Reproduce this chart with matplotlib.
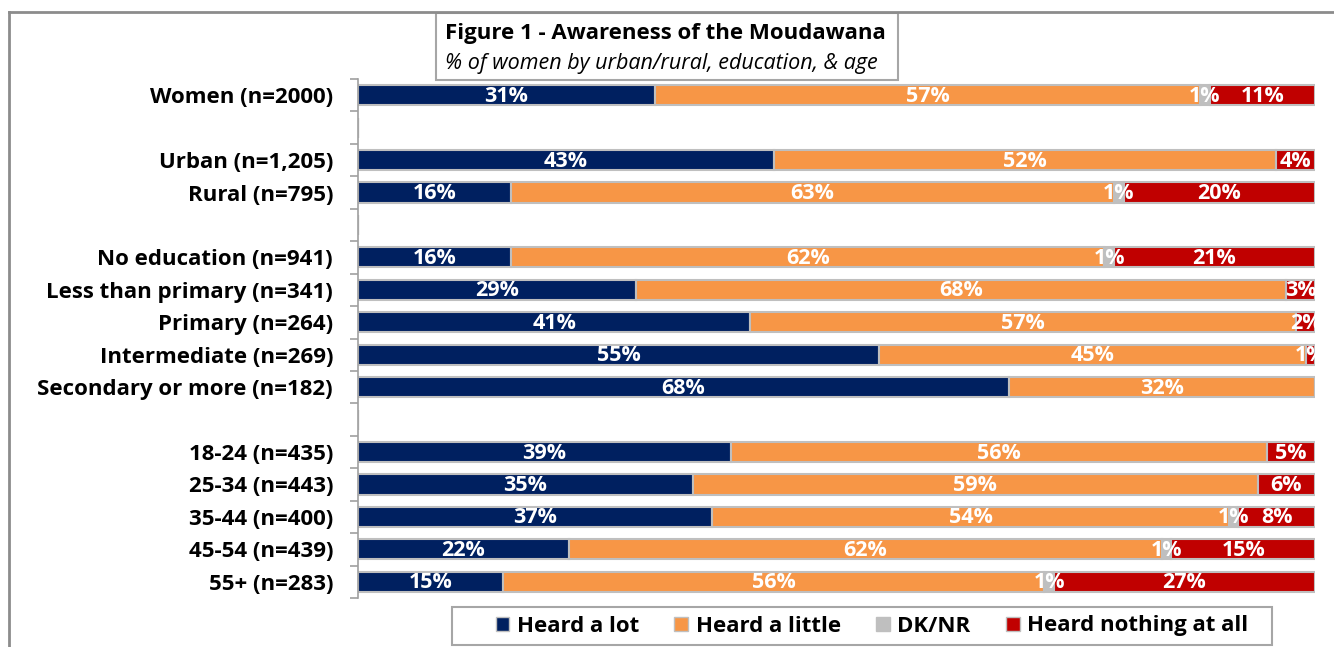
import numpy as np
import matplotlib
matplotlib.use('Agg')
import matplotlib.pyplot as plt
from matplotlib.patches import Rectangle, Patch
from matplotlib.lines import Line2D

plt.rcParams['font.family'] = ['Open Sans', 'DejaVu Sans']

# Data (blank strings are spacer rows)
categories = ['Women (n=2000)', '',
              'Urban (n=1,205)', 'Rural (n=795)', '',
              'No education (n=941)', 'Less than primary (n=341)', 'Primary (n=264)',
              'Intermediate (n=269)', 'Secondary or more (n=182)', '',
              '18-24 (n=435)', '25-34 (n=443)', '35-44 (n=400)', '45-54 (n=439)', '55+ (n=283)']
heard_lot = [31, 0, 43, 16, 0, 16, 29, 41, 55, 68, 0, 39, 35, 37, 22, 15]
heard_little = [57, 0, 52, 63, 0, 62, 68, 57, 45, 32, 0, 56, 59, 54, 62, 56]
dk_nr = [1, 0, 0, 1, 0, 1, 0, 0, 0, 0, 0, 0, 0, 1, 1, 1]
heard_nothing = [11, 0, 4, 20, 0, 21, 3, 2, 1, 0, 0, 5, 6, 8, 15, 27]

series = ['Heard a lot', 'Heard a little', 'DK/NR', 'Heard nothing at all']
colors = ['#002060', '#F79646', '#BFBFBF', '#C00000']

W, H = 1334, 647
fig = plt.figure(figsize=(W / 100, H / 100), dpi=100)
ax = fig.add_axes([358 / W, 1 - 598 / H, (1315 - 358) / W, (598 - 79) / H])

vals = np.array([heard_lot, heard_little, dk_nr, heard_nothing], dtype=float)
totals = vals.sum(axis=0)
totals[totals == 0] = 1
shares = vals / totals * 100
y = np.arange(len(categories))

left = np.zeros(len(categories))
for i, (name, col) in enumerate(zip(series, colors)):
    ax.barh(y, shares[i], left=left, height=0.62, color=col,
            edgecolor='#BFBFBF', linewidth=1.5, label=name)
    for j in range(len(categories)):
        if vals[i, j] > 0:
            ax.text(left[j] + shares[i, j] / 2, y[j] + 0.03, f'{int(vals[i, j])}%',
                    ha='center', va='center', color='white', fontsize=15.5,
                    fontweight='bold', clip_on=True)
    left += shares[i]

ax.set_xlim(0, 100)
ax.set_ylim(len(categories) - 0.5, -0.5)
ax.set_xticks([])
ax.set_yticks(np.arange(-0.5, len(categories)), labels=[''] * (len(categories) + 1))
ax.tick_params(axis='y', which='major', length=6, color='#A0A0A0', width=1.2)
ax.set_yticks(y, labels=categories, minor=True)
ax.tick_params(axis='y', which='minor', length=0, pad=18, labelsize=16)
for lab in ax.get_yticklabels(minor=True):
    lab.set_fontweight('bold')
for s in ['top', 'right', 'bottom']:
    ax.spines[s].set_visible(False)
ax.spines['left'].set_color('#A0A0A0')
ax.spines['left'].set_linewidth(1.2)

# outer frame (top and left)
fig.add_artist(Line2D([8.5 / W, 1], [1 - 11.5 / H, 1 - 11.5 / H], color='#8C8C8C', lw=2))
fig.add_artist(Line2D([8.5 / W, 8.5 / W], [0, 1 - 11.5 / H], color='#8C8C8C', lw=2))

# title box
fig.add_artist(Rectangle((436 / W, 1 - 80 / H), (898 - 436) / W, (80 - 13) / H,
                         transform=fig.transFigure, facecolor='white',
                         edgecolor='#A6A6A6', lw=1.5))
fig.text(445 / W, 1 - 33 / H, 'Figure 1 - Awareness of the Moudawana',
         fontsize=16, fontweight='bold', va='center', ha='left')
fig.text(445 / W, 1 - 63 / H, '% of women by urban/rural, education, & age',
         fontsize=15.5, fontstyle='italic', va='center', ha='left')

# legend box
fig.add_artist(Rectangle((452 / W, 1 - 645 / H), (1272 - 452) / W, (645 - 607) / H,
                         transform=fig.transFigure, facecolor='white',
                         edgecolor='#A6A6A6', lw=1.5))
handles = [Patch(facecolor=c, edgecolor='#BFBFBF', label=n) for n, c in zip(series, colors)]
leg = fig.legend(handles=handles, loc='center', bbox_to_anchor=(872 / W, 1 - 626 / H),
                 ncol=4, frameon=False,
                 handlelength=0.6, handleheight=0.6, handletextpad=0.35,
                 columnspacing=1.6, borderpad=0.25, borderaxespad=0,
                 prop={'weight': 'bold', 'size': 16})

fig.savefig('out.png', dpi=100)
